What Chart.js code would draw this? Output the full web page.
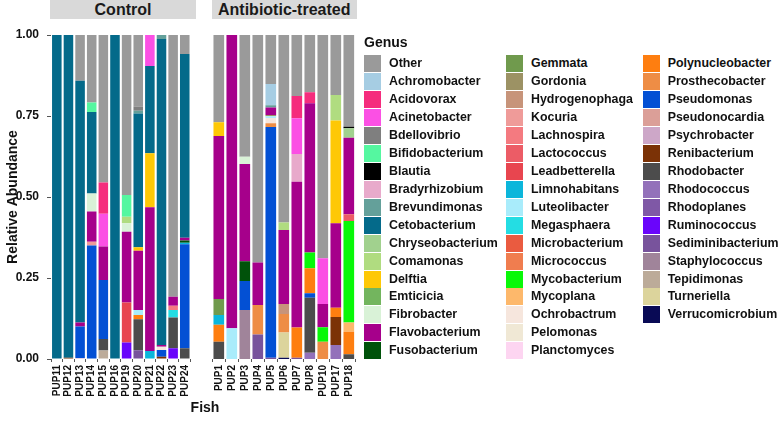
<!DOCTYPE html>
<html>
<head>
<meta charset="utf-8">
<script src="https://cdn.jsdelivr.net/npm/chart.js@4.4.1/dist/chart.umd.min.js"></script>
<style>
  body { margin: 0; background: #fff; font-family: "Liberation Sans", Arial, sans-serif; }
  #wrap { position: relative; width: 778px; height: 423px; overflow: hidden; }
  .panel { position: absolute; top: 0; height: 423px; }
  .strip { position: absolute; top: 0; height: 19px; background: #d9d9d9; color: #1a1a1a;
           font-weight: bold; font-size: 16px; line-height: 20px; text-align: center; }
  .legend-title { position: absolute; left: 364px; top: 34px; font-weight: bold; font-size: 14px; color: #111; }
  .key { position: absolute; height: 17px; white-space: nowrap; }
  .key span.sw { position: absolute; left: 0; top: 0; width: 17px; height: 17px; }
  .key span.tx { position: absolute; left: 25px; top: 0; line-height: 17px; font-weight: bold;
                 font-size: 12.4px; color: #111; }
  #fish { position: absolute; left: 155px; width: 100px; top: 399px; text-align: center;
          font-weight: bold; font-size: 14px; color: #111; }
</style>
</head>
<body>
<div id="wrap">
  <div class="strip" style="left:50px;width:146px">Control</div>
  <div class="strip" style="left:211.5px;width:145.5px">Antibiotic-treated</div>
  <div class="panel" style="left:0;width:200px"><canvas id="control"></canvas></div>
  <div class="panel" style="left:200px;width:170px"><canvas id="treated"></canvas></div>
  <div id="fish">Fish</div>
  <div class="legend-title">Genus</div>
  <div id="legend"></div>
</div>

<script>
// Genus names in legend order (first one ends up on top of each stack)
const genera = [
  'Other', 'Achromobacter', 'Acidovorax', 'Acinetobacter', 'Bdellovibrio', 'Bifidobacterium',
  'Blautia', 'Bradyrhizobium', 'Brevundimonas', 'Cetobacterium', 'Chryseobacterium', 'Comamonas',
  'Delftia', 'Emticicia', 'Fibrobacter', 'Flavobacterium', 'Fusobacterium',
  'Gemmata', 'Gordonia', 'Hydrogenophaga', 'Kocuria', 'Lachnospira', 'Lactococcus',
  'Leadbetterella', 'Limnohabitans', 'Luteolibacter', 'Megasphaera', 'Microbacterium', 'Micrococcus',
  'Mycobacterium', 'Mycoplana', 'Ochrobactrum', 'Pelomonas', 'Planctomyces',
  'Polynucleobacter', 'Prosthecobacter', 'Pseudomonas', 'Pseudonocardia', 'Psychrobacter',
  'Renibacterium', 'Rhodobacter', 'Rhodococcus', 'Rhodoplanes', 'Ruminococcus',
  'Sediminibacterium', 'Staphylococcus', 'Tepidimonas', 'Turneriella', 'Verrucomicrobium'
];

const genusColors = [
  '#9a9a9a', '#a6cde3', '#f52c7d', '#fb50e4', '#7f7f7f', '#55f7a0',
  '#000000', '#e8aacb', '#64a09a', '#046a8a', '#a1d18e', '#b0dc80',
  '#fec806', '#73b55e', '#d9f2d7', '#a6008b', '#00520a',
  '#709a4d', '#9c9264', '#c7947a', '#ef9b99', '#f47a80', '#ec5c66',
  '#e8454f', '#0bb6db', '#a9ecfb', '#24dde3', '#ea5b40', '#f07d4f',
  '#08f808', '#fdb86b', '#f6e6dd', '#f0e8d5', '#fdd5f1',
  '#fe7e10', '#ee8d45', '#0350d4', '#db9f98', '#cda7c8',
  '#7b3206', '#4c4c4c', '#9371ba', '#7f58a6', '#6a05fb',
  '#78539c', '#a0849a', '#bcab99', '#dcd49c', '#090a55'
];

const controlFish = ['PUP11', 'PUP12', 'PUP13', 'PUP14', 'PUP15', 'PUP16',
                     'PUP19', 'PUP20', 'PUP21', 'PUP22', 'PUP23', 'PUP24'];
const treatedFish = ['PUP1', 'PUP2', 'PUP3', 'PUP4', 'PUP5', 'PUP6',
                     'PUP7', 'PUP8', 'PUP10', 'PUP17', 'PUP18'];
const yTicks = [0, 0.25, 0.5, 0.75, 1];

// Composition of each fish: [genus, relative abundance]
const PUP11 = [['Cetobacterium', 1.0]];
const PUP12 = [['Cetobacterium', 0.996], ['Renibacterium', 0.004]];
const PUP13 = [['Other', 0.141], ['Cetobacterium', 0.746], ['Flavobacterium', 0.013],
               ['Pseudomonas', 0.097], ['Psychrobacter', 0.003]];
const PUP14 = [['Other', 0.208], ['Bifidobacterium', 0.030], ['Cetobacterium', 0.251],
               ['Fibrobacter', 0.056], ['Flavobacterium', 0.093], ['Kocuria', 0.012],
               ['Pseudomonas', 0.350]];
const PUP15 = [['Other', 0.455], ['Acidovorax', 0.097], ['Acinetobacter', 0.101],
               ['Flavobacterium', 0.103], ['Pseudomonas', 0.182], ['Rhodobacter', 0.036],
               ['Tepidimonas', 0.026]];
const PUP16 = [['Cetobacterium', 1.0]];
const PUP19 = [['Other', 0.494], ['Bifidobacterium', 0.067], ['Comamonas', 0.020],
               ['Fibrobacter', 0.026], ['Flavobacterium', 0.219], ['Leadbetterella', 0.123],
               ['Ruminococcus', 0.051]];
const PUP20 = [['Other', 0.221], ['Bdellovibrio', 0.013], ['Brevundimonas', 0.008],
               ['Cetobacterium', 0.413], ['Delftia', 0.011], ['Flavobacterium', 0.183],
               ['Luteolibacter', 0.015], ['Polynucleobacter', 0.013], ['Rhodobacter', 0.096],
               ['Sediminibacterium', 0.027]];
const PUP21 = [['Acinetobacter', 0.096], ['Cetobacterium', 0.269], ['Delftia', 0.167],
               ['Flavobacterium', 0.443], ['Limnohabitans', 0.025]];
const PUP22 = [['Brevundimonas', 0.012], ['Cetobacterium', 0.945], ['Flavobacterium', 0.005],
               ['Renibacterium', 0.007], ['Ochrobactrum', 0.010], ['Pseudomonas', 0.021]];
const PUP23 = [['Other', 0.808], ['Flavobacterium', 0.028], ['Lachnospira', 0.013],
               ['Megasphaera', 0.023], ['Rhodobacter', 0.095], ['Ruminococcus', 0.033]];
const PUP24 = [['Other', 0.059], ['Cetobacterium', 0.567], ['Flavobacterium', 0.008],
               ['Fusobacterium', 0.007], ['Limnohabitans', 0.005], ['Pseudomonas', 0.321],
               ['Rhodobacter', 0.033]];

const PUP1 = [['Other', 0.269], ['Delftia', 0.043], ['Flavobacterium', 0.503],
              ['Gemmata', 0.049], ['Limnohabitans', 0.030], ['Polynucleobacter', 0.053],
              ['Rhodobacter', 0.053]];
const PUP2 = [['Flavobacterium', 0.905], ['Luteolibacter', 0.095]];
const PUP3 = [['Other', 0.376], ['Fibrobacter', 0.022], ['Flavobacterium', 0.300],
              ['Fusobacterium', 0.061], ['Pseudomonas', 0.090], ['Staphylococcus', 0.151]];
const PUP4 = [['Other', 0.702], ['Flavobacterium', 0.131], ['Prosthecobacter', 0.091],
              ['Sediminibacterium', 0.076]];
const PUP5 = [['Other', 0.151], ['Achromobacter', 0.066], ['Brevundimonas', 0.007],
              ['Flavobacterium', 0.023], ['Gordonia', 0.004], ['Luteolibacter', 0.005],
              ['Ochrobactrum', 0.016], ['Prosthecobacter', 0.012], ['Pseudomonas', 0.712],
              ['Sediminibacterium', 0.004]];
const PUP6 = [['Other', 0.579], ['Comamonas', 0.023], ['Flavobacterium', 0.228],
              ['Hydrogenophaga', 0.031], ['Prosthecobacter', 0.057], ['Turneriella', 0.078],
              ['Verrucomicrobium', 0.004]];
const PUP7 = [['Other', 0.188], ['Acidovorax', 0.069], ['Acinetobacter', 0.110],
              ['Bradyrhizobium', 0.086], ['Flavobacterium', 0.450], ['Polynucleobacter', 0.093],
              ['Sediminibacterium', 0.004]];
const PUP8 = [['Other', 0.177], ['Acidovorax', 0.034], ['Flavobacterium', 0.460],
              ['Mycobacterium', 0.049], ['Polynucleobacter', 0.077], ['Pseudomonas', 0.014],
              ['Rhodobacter', 0.170], ['Rhodococcus', 0.019]];
const PUP10 = [['Other', 0.689], ['Acinetobacter', 0.141], ['Flavobacterium', 0.072],
               ['Mycobacterium', 0.045], ['Prosthecobacter', 0.053]];
const PUP17 = [['Other', 0.185], ['Comamonas', 0.079], ['Delftia', 0.317],
               ['Flavobacterium', 0.261], ['Polynucleobacter', 0.028], ['Renibacterium', 0.087],
               ['Rhodococcus', 0.043]];
const PUP18 = [['Other', 0.283], ['Blautia', 0.005], ['Chryseobacterium', 0.029],
               ['Flavobacterium', 0.236], ['Lactococcus', 0.021], ['Mycobacterium', 0.313],
               ['Mycoplana', 0.029], ['Polynucleobacter', 0.069], ['Rhodobacter', 0.015]];

const controlBars = [PUP11, PUP12, PUP13, PUP14, PUP15, PUP16, PUP19, PUP20, PUP21, PUP22, PUP23, PUP24];
const treatedBars = [PUP1, PUP2, PUP3, PUP4, PUP5, PUP6, PUP7, PUP8, PUP10, PUP17, PUP18];

const FONT = '"Liberation Sans", Arial, sans-serif';
const TEXT = '#111';

// One dataset per genus, reversed so "Other" is stacked last (on top)
function buildDatasets(bars) {
    return genera.map((g, i) => ({
        label: g,
        data: bars.map(b => {
            const hit = b.find(p => p[0] === g);
            return hit ? hit[1] : 0;
        }),
        backgroundColor: genusColors[i],
        borderWidth: 0,
        barPercentage: 0.82,
        categoryPercentage: 1
    })).reverse();
}

function makePanel(canvasId, labels, bars, showY, padding) {
    const canvas = document.getElementById(canvasId);
    return new Chart(canvas.getContext('2d'), {
        type: 'bar',
        data: {
            labels: labels,
            datasets: buildDatasets(bars)
        },
        options: {
            responsive: true,
            maintainAspectRatio: false,
            animation: false,
            layout: { padding: padding },
            plugins: {
                legend: { display: false },
                tooltip: { enabled: false }
            },
            scales: {
                x: {
                    stacked: true,
                    afterFit: s => { s.height = 64; },
                    border: { display: false },
                    grid: {
                        drawOnChartArea: false,
                        drawTicks: true,
                        tickLength: 3,
                        color: '#555'
                    },
                    ticks: {
                        autoSkip: false,
                        minRotation: 90,
                        maxRotation: 90,
                        padding: 3,
                        color: TEXT,
                        font: { family: FONT, size: 10, weight: 'bold' }
                    }
                },
                y: {
                    display: showY,
                    stacked: true,
                    min: 0,
                    max: 1,
                    afterFit: s => { s.width = showY ? 51 : 0; },
                    afterBuildTicks: s => { s.ticks = yTicks.map(v => ({ value: v })); },
                    border: { display: false },
                    grid: {
                        drawOnChartArea: false,
                        drawTicks: true,
                        tickLength: 4,
                        color: '#555'
                    },
                    ticks: {
                        padding: 8,
                        color: TEXT,
                        font: { family: FONT, size: 12, weight: 'bold' },
                        callback: v => Number(v).toFixed(2)
                    },
                    title: {
                        display: true,
                        text: 'Relative Abundance',
                        color: TEXT,
                        padding: { top: 5, bottom: 0 },
                        font: { family: FONT, size: 14, weight: 'bold' }
                    }
                }
            }
        }
    });
}

makePanel('control', controlFish, controlBars, true, { left: 0, right: 5.7, top: 35, bottom: 0 });
makePanel('treated', treatedFish, treatedBars, false, { left: 12.3, right: 14.7, top: 35, bottom: 0 });

// Legend, three columns built from the genus arrays
const legendEl = document.getElementById('legend');
const colX = [364, 506, 642.7];
const perCol = 17;
genera.forEach((g, i) => {
    const col = Math.floor(i / perCol);
    const row = i % perCol;
    const key = document.createElement('div');
    key.className = 'key';
    key.style.left = colX[col] + 'px';
    key.style.top = (55 + row * 17.96) + 'px';
    key.innerHTML = '<span class="sw" style="background:' + genusColors[i] + '"></span>' +
                    '<span class="tx">' + g + '</span>';
    legendEl.appendChild(key);
});
</script>
</body>
</html>
